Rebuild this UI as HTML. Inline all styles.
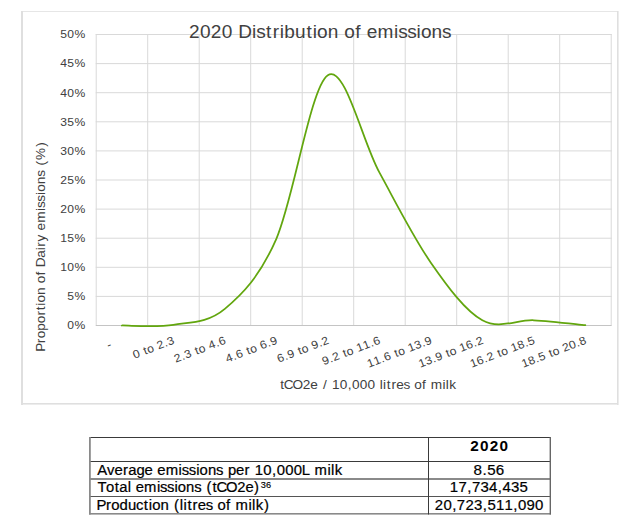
<!DOCTYPE html>
<html><head><meta charset="utf-8"><style>
html,body{margin:0;padding:0;background:#fff;}
body{width:643px;height:522px;overflow:hidden;}
svg{display:block;font-family:"Liberation Sans",sans-serif;}
</style></head><body>
<svg width="643" height="522" viewBox="0 0 643 522">
<rect width="643" height="522" fill="#fff"/>
<rect x="21" y="11" width="597" height="1" fill="#e6e6e6"/>
<rect x="21" y="11" width="2" height="394" fill="#dfdfdf"/>
<rect x="617" y="11" width="1.6" height="394" fill="#dfdfdf"/>
<rect x="21" y="403" width="597" height="1.6" fill="#dfdfdf"/>
<rect x="95.7" y="34" width="516" height="1" fill="#d9d9d9"/>
<rect x="95.7" y="63.1" width="516" height="1" fill="#d9d9d9"/>
<rect x="95.7" y="92.2" width="516" height="1" fill="#d9d9d9"/>
<rect x="95.7" y="121.3" width="516" height="1" fill="#d9d9d9"/>
<rect x="95.7" y="150.4" width="516" height="1" fill="#d9d9d9"/>
<rect x="95.7" y="179.5" width="516" height="1" fill="#d9d9d9"/>
<rect x="95.7" y="208.6" width="516" height="1" fill="#d9d9d9"/>
<rect x="95.7" y="237.7" width="516" height="1" fill="#d9d9d9"/>
<rect x="95.7" y="266.8" width="516" height="1" fill="#d9d9d9"/>
<rect x="95.7" y="295.9" width="516" height="1" fill="#d9d9d9"/>
<rect x="95.7" y="325" width="516" height="1" fill="#c4c4c4"/>
<rect x="95.7" y="34" width="1" height="291" fill="#d9d9d9"/>
<rect x="147.2" y="34" width="1" height="291" fill="#d9d9d9"/>
<rect x="198.7" y="34" width="1" height="291" fill="#d9d9d9"/>
<rect x="250.2" y="34" width="1" height="291" fill="#d9d9d9"/>
<rect x="301.7" y="34" width="1" height="291" fill="#d9d9d9"/>
<rect x="353.2" y="34" width="1" height="291" fill="#d9d9d9"/>
<rect x="404.7" y="34" width="1" height="291" fill="#d9d9d9"/>
<rect x="456.2" y="34" width="1" height="291" fill="#d9d9d9"/>
<rect x="507.7" y="34" width="1" height="291" fill="#d9d9d9"/>
<rect x="559.2" y="34" width="1" height="291" fill="#d9d9d9"/>
<rect x="610.7" y="34" width="1" height="291" fill="#d9d9d9"/>
<path d="M121.85,325.5 C130.43,325.38 156.18,327.57 173.35,324.8 C190.52,322.04 207.68,323.25 224.85,308.91 C242.02,294.58 259.18,277.73 276.35,238.78 C293.52,199.84 310.68,86.3 327.85,75.24 C345.02,64.18 362.18,141.2 379.35,172.43 C396.52,203.67 413.68,238.01 430.85,262.64 C448.02,287.28 465.18,310.66 482.35,320.26 C499.52,329.87 516.68,319.44 533.85,320.26 C551.02,321.09 576.77,324.38 585.35,325.21" fill="none" stroke="#62a60e" stroke-width="1.75" stroke-linecap="round" stroke-linejoin="round"/>
<text transform="translate(188.9,37.6) scale(1.08,1)" x="0.14 10.23 20.32 30.42 40.72 45.7 58.42 62.27 71.5 77.53 84.07 88.24 98.21 108.82 114.62 118.66 128.5 138.78 143.93 154 159.58 164.64 174.65 189.95 193.8 202.08 210.84 214.88 224.73 234.38" font-size="17.66" fill="#404040">2020 Distribution of emissions</text>
<text transform="translate(60.14,38.3) scale(1.08,1)" x="0.09 6.5 13.27" font-size="11.23" fill="#404040">50%</text>
<text transform="translate(60.14,67.4) scale(1.08,1)" x="0.09 6.5 13.27" font-size="11.23" fill="#404040">45%</text>
<text transform="translate(60.14,96.5) scale(1.08,1)" x="0.09 6.5 13.27" font-size="11.23" fill="#404040">40%</text>
<text transform="translate(60.14,125.6) scale(1.08,1)" x="0.09 6.5 13.27" font-size="11.23" fill="#404040">35%</text>
<text transform="translate(60.14,154.7) scale(1.08,1)" x="0.09 6.5 13.27" font-size="11.23" fill="#404040">30%</text>
<text transform="translate(60.14,183.8) scale(1.08,1)" x="0.09 6.5 13.27" font-size="11.23" fill="#404040">25%</text>
<text transform="translate(60.14,212.9) scale(1.08,1)" x="0.09 6.5 13.27" font-size="11.23" fill="#404040">20%</text>
<text transform="translate(60.14,242) scale(1.08,1)" x="0.09 6.5 13.27" font-size="11.23" fill="#404040">15%</text>
<text transform="translate(60.14,271.1) scale(1.08,1)" x="0.09 6.5 13.27" font-size="11.23" fill="#404040">10%</text>
<text transform="translate(67.07,300.2) scale(1.08,1)" x="0.09 6.86" font-size="11.23" fill="#404040">5%</text>
<text transform="translate(67.07,329.3) scale(1.08,1)" x="0.09 6.86" font-size="11.23" fill="#404040">0%</text>
<text transform="translate(279.64,389.3) scale(1.08,1)" x="0.48 3.87 11.94 21.41 28.39 35.52 40.09 44.66 48.5 55.71 63.13 67.04 74.25 81.46 88.82 92.72 95.82 99.26 103.57 107.96 114.64 120.99 124.67 131.86 135.85 139.86 150.78 153.89 157.04" font-size="12.62" fill="#404040">tCO2e / 10,000 litres of milk</text>
<text transform="translate(44.6,350.84) rotate(-90) scale(1.08,1)" x="-0.78 7.13 11.57 18.52 25.46 32.71 37.69 41.81 44.69 51.69 59 62.67 69.83 73.8 77.35 86.15 93.19 96.45 101.15 107.88 111.48 118.6 129.49 132.23 138.12 144.35 147.23 154.23 161.11 167.43 171.63 176.78 188.92" font-size="12.57" fill="#404040">Proportion of Dairy emissions (%)</text>
<text transform="translate(134.48,358.87) rotate(-21.0) scale(1.08,1)" x="0.09 6.69 10.49 14.01 20.47 23.92 30.59 34.1" font-size="11.33" fill="#404040">0 to 2.3</text>
<text transform="translate(175.71,362.81) rotate(-21.0) scale(1.08,1)" x="0.09 6.75 10.27 16.87 20.67 24.19 30.65 34.1 40.77 44.28" font-size="11.33" fill="#404040">2.3 to 4.6</text>
<text transform="translate(227.21,362.81) rotate(-21.0) scale(1.08,1)" x="0.09 6.75 10.27 16.87 20.67 24.19 30.65 34.1 40.77 44.28" font-size="11.33" fill="#404040">4.6 to 6.9</text>
<text transform="translate(278.71,362.81) rotate(-21.0) scale(1.08,1)" x="0.09 6.75 10.27 16.87 20.67 24.19 30.65 34.1 40.77 44.28" font-size="11.33" fill="#404040">6.9 to 9.2</text>
<text transform="translate(323.69,365.32) rotate(-21.0) scale(1.08,1)" x="0.09 6.75 10.27 16.87 20.67 24.19 30.65 34.1 40.57 47.24 50.75" font-size="11.33" fill="#404040">9.2 to 11.6</text>
<text transform="translate(368.66,367.82) rotate(-21.0) scale(1.08,1)" x="0.09 6.56 13.23 16.74 23.35 27.14 30.66 37.12 40.57 47.05 53.72 57.23" font-size="11.33" fill="#404040">11.6 to 13.9</text>
<text transform="translate(420.16,367.82) rotate(-21.0) scale(1.08,1)" x="0.09 6.56 13.23 16.74 23.35 27.14 30.66 37.12 40.57 47.05 53.72 57.23" font-size="11.33" fill="#404040">13.9 to 16.2</text>
<text transform="translate(471.66,367.82) rotate(-21.0) scale(1.08,1)" x="0.09 6.56 13.23 16.74 23.35 27.14 30.66 37.12 40.57 47.05 53.72 57.23" font-size="11.33" fill="#404040">16.2 to 18.5</text>
<text transform="translate(523.16,367.82) rotate(-21.0) scale(1.08,1)" x="0.09 6.56 13.23 16.74 23.35 27.14 30.66 37.12 40.57 47.05 53.72 57.23" font-size="11.33" fill="#404040">18.5 to 20.8</text>
<text transform="translate(108.2,349.26) rotate(-21.0) scale(1.08,1)" x="0.43" font-size="11.33" fill="#404040">-</text>
<text transform="translate(97.59,474.8) scale(1.08,1)" x="-0.36 8.7 15.67 23.54 28.37 35.95 43.5 51.29 55.24 63.05 74.98 77.99 84.45 91.29 94.44 102.12 109.66 116.6 120.72 128.27 136.14 141.34 145.54 153.42 161.53 165.8 173.68 181.55 188.94 196.49 200.87 212.81 216.2 219.65" font-size="13.78" fill="#000000" stroke="#000000" stroke-width="0.2">Average emissions per 10,000L milk</text>
<text transform="translate(97.93,492.4) scale(1.08,1)" x="-0.39 7.53 15.61 19.84 27.52 31 34.93 42.71 54.59 57.58 64.01 70.81 73.96 81.6 89.1 96.01 100.59 106.2 109.89 118.67 128.96 136.56 144.56" font-size="13.72" fill="#000000" stroke="#000000" stroke-width="0.2">Total emissions (tCO2e)</text>
<text transform="translate(260.65,487.7) scale(1.08,1)" x="0.07 4.95" font-size="8.55" fill="#000000" stroke="#000000" stroke-width="0.13999999999999999">36</text>
<text transform="translate(97.54,509.9) scale(1.08,1)" x="-0.86 7.83 12.7 20.33 28.12 35.66 42.87 47.39 50.55 58.24 66.27 70.88 76.16 79.56 83.32 88.03 92.83 100.14 107.09 111.11 118.97 123.33 127.72 139.67 143.07 146.52 154.16" font-size="13.8" fill="#000000" stroke="#000000" stroke-width="0.2">Production (litres of milk)</text>
<text transform="translate(469.6,450.8) scale(1.08,1)" x="0.59 9.66 18.73 27.8" font-size="14.19" fill="#000000" font-weight="bold">2020</text>
<text transform="translate(473.48,474.9) scale(1.08,1)" x="0.11 8.35 12.69 20.7" font-size="14.01" fill="#000000" stroke="#000000" stroke-width="0.2">8.56</text>
<text transform="translate(449.74,492.4) scale(1.08,1)" x="0.11 8.04 16.2 20.51 28.44 36.37 44.53 48.83 56.76 64.7" font-size="13.88" fill="#000000" stroke="#000000" stroke-width="0.2">17,734,435</text>
<text transform="translate(434.74,510) scale(1.08,1)" x="0.11 8.03 16.19 20.49 28.41 36.33 44.49 48.79 56.71 64.64 72.8 77.1 85.02 92.94" font-size="13.86" fill="#000000" stroke="#000000" stroke-width="0.2">20,723,511,090</text>
<rect x="89" y="437" width="462" height="1" fill="#3a3a3a"/>
<rect x="89" y="461" width="462" height="1" fill="#3a3a3a"/>
<rect x="89" y="478" width="462" height="2" fill="#8a8a8a"/>
<rect x="89" y="496" width="462" height="1" fill="#555"/>
<rect x="89" y="513" width="462" height="1.6" fill="#8a8a8a"/>
<rect x="89" y="437" width="1.8" height="77.5" fill="#8a8a8a"/>
<rect x="428" y="437" width="1" height="77.5" fill="#3a3a3a"/>
<rect x="549.6" y="437" width="1.4" height="77.5" fill="#666"/>
</svg>
</body></html>
